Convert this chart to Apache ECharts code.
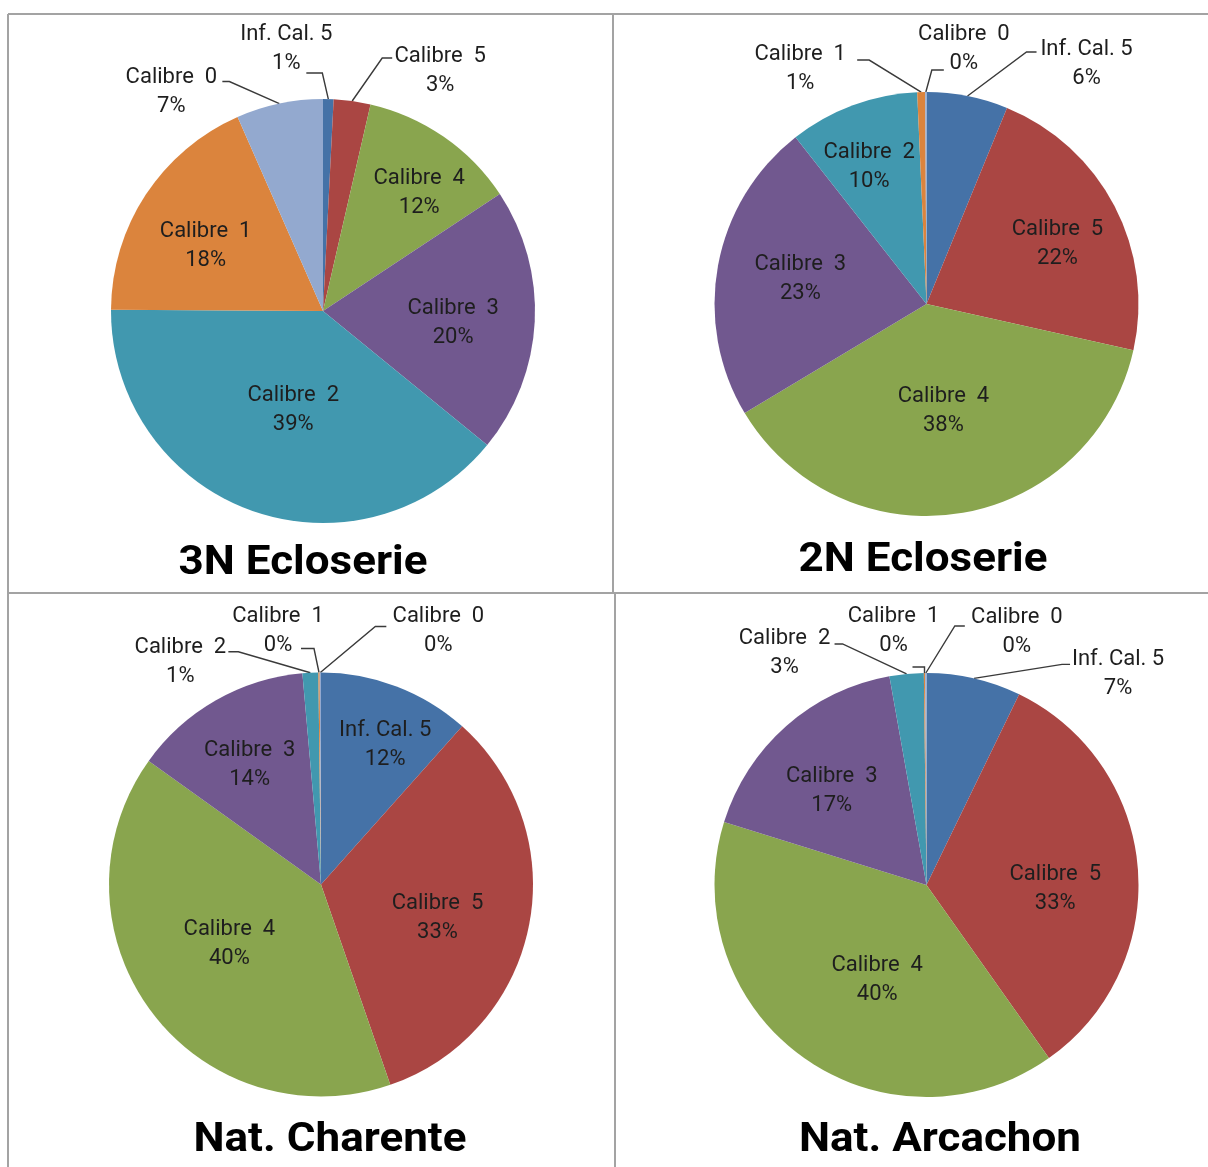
<!DOCTYPE html>
<html>
<head>
<meta charset="utf-8">
<script src="https://cdn.jsdelivr.net/npm/echarts@6/dist/echarts.min.js"></script>
<style>
  html, body { margin: 0; padding: 0; background: #fff; }
  #chart { width: 1208px; height: 1167px; }
</style>
</head>
<body>
<div id="chart"></div>
<script>
// categories, in the order they go round each pie (clockwise from 12 o'clock)
const categories = ['Inf. Cal. 5', 'Calibre 5', 'Calibre 4', 'Calibre 3', 'Calibre 2', 'Calibre 1', 'Calibre 0'];
const sliceColors = ['#4572A7', '#AA4643', '#89A54E', '#71588F', '#4198AF', '#DB843D', '#93A9CF'];

// share of each calibre, in %
const ecloserie3N = [0.8, 2.8, 12.1, 20.2, 39.2, 18.3, 6.6];
const ecloserie2N = [6.2, 22.3, 37.9, 23.0, 9.9, 0.6, 0.1];
const natCharente = [11.6, 33.1, 40.2, 13.7, 1.2, 0.1, 0.1];
const natArcachon = [7.2, 33.0, 39.6, 17.4, 2.6, 0.1, 0.1];

const titles = ['3N Ecloserie', '2N Ecloserie', 'Nat. Charente', 'Nat. Arcachon'];

const RADIUS = 212;

// label placement: k = radial position of an inside label (fraction of radius) + small nudge,
// b/e/l = leader bend, leader end and label centre, relative to the slice edge point
const inn = (k, dx, dy) => ({ k: k, d: [dx, dy] });
const out = (bx, by, ex, ey, lx, ly) => ({ b: [bx, by], e: [ex, ey], l: [lx, ly] });

const panels = [
    {
        values: ecloserie3N, center: [323, 311], titlePos: [303, 564],
        labels: [out(-6, -26, -22, -26, -42, -50), out(30, -43, 40, -43, 88, -30), inn(0.73, 8, 9), inn(0.61, 1, 6),
                 inn(0.47, 4, 5), inn(0.64, -4, 9), out(-50, -22, -57, -22, -108, -12)]
    },
    {
        values: ecloserie2N, center: [926.5, 304], titlePos: [923, 561],
        labels: [out(59, -44, 69, -44, 119, -32), inn(0.67, 5, 6), inn(0.5, 0, 2), inn(0.61, 1, -2),
                 inn(0.71, -5, 4), out(-52, -32, -64, -32, -121, -23), out(6, -22, 18, -22, 38, -43)]
    },
    {
        values: natCharente, center: [321, 884.5], titlePos: [330, 1141],
        labels: [inn(0.73, 9, 5), inn(0.57, -2, 10), inn(0.51, -5, -5), inn(0.66, -2, 2),
                 out(-72, -21, -82, -21, -130, -11), out(-5, -24, -18, -24, -41, -42), out(55, -46, 66, -46, 118, -42)]
    },
    {
        values: natArcachon, center: [926.5, 885], titlePos: [940, 1141],
        labels: [out(88, -14, 96, -14, 144, -4), inn(0.6, 2, 14), inn(0.5, 13, 9), inn(0.64, -5, 8),
                 out(-64, -30, -72, -30, -122, -21), out(0, -6, -12, -6, -31, -42), out(29, -47, 39, -47, 91, -41)]
    }
];

function placeLabel(params) {
    const panel = panels[params.seriesIndex];
    if (!panel) return {};
    const spec = panel.labels[params.dataIndex];
    const rect = params.labelRect;
    if (spec.k) {
        const cx = panel.center[0];
        const cy = panel.center[1];
        const dx = rect.x + rect.width / 2 - cx;
        const dy = rect.y + rect.height / 2 - cy;
        const len = Math.sqrt(dx * dx + dy * dy) || 1;
        return {
            x: cx + dx / len * spec.k * RADIUS + spec.d[0],
            y: cy + dy / len * spec.k * RADIUS + spec.d[1],
            align: 'center',
            verticalAlign: 'middle'
        };
    }
    const pts = params.labelLinePoints;
    if (!pts) return {};
    const p0 = pts[0];
    return {
        x: p0[0] + spec.l[0],
        y: p0[1] + spec.l[1],
        align: 'center',
        verticalAlign: 'middle',
        labelLinePoints: [
            [p0[0], p0[1]],
            [p0[0] + spec.b[0], p0[1] + spec.b[1]],
            [p0[0] + spec.e[0], p0[1] + spec.e[1]]
        ]
    };
}

const series = panels.map(function (panel) {
    return {
        type: 'pie',
        center: panel.center,
        radius: RADIUS,
        startAngle: 90,
        clockwise: true,
        avoidLabelOverlap: false,
        percentPrecision: 0,
        silent: true,
        itemStyle: { borderWidth: 0 },
        label: {
            // the source labels show a wide gap before the calibre number
            formatter: function (p) {
                return p.name.replace(/^Calibre /, 'Calibre  ') + '\n' + p.percent + '%';
            },
            fontFamily: 'Roboto',
            fontSize: 22,
            lineHeight: 29,
            color: '#1e1e1e'
        },
        labelLine: {
            show: false,
            lineStyle: { color: '#3a3a3a', width: 1.4 }
        },
        labelLayout: placeLabel,
        data: categories.map(function (name, i) {
            const isOut = !panel.labels[i].k;
            return {
                name: name,
                value: panel.values[i],
                itemStyle: { color: sliceColors[i] },
                label: { position: isOut ? 'outside' : 'inside' },
                labelLine: { show: isOut, length: 15, length2: 10 }
            };
        })
    };
});

// panel frame
const frameColor = '#a3a3a3';
const frameLines = [
    [8, 14, 1208, 14],
    [8, 14, 8, 1167],
    [8, 593, 1208, 593],
    [613, 14, 613, 593],
    [615, 593, 615, 1167]
];

const graphic = frameLines.map(function (l) {
    return {
        type: 'line',
        silent: true,
        shape: { x1: l[0], y1: l[1], x2: l[2], y2: l[3] },
        style: { stroke: frameColor, lineWidth: 2 }
    };
}).concat(panels.map(function (panel, i) {
    return {
        type: 'text',
        silent: true,
        x: panel.titlePos[0],
        y: panel.titlePos[1],
        scaleX: 1.1,
        style: {
            text: titles[i],
            font: 'bold 40px Roboto, "Liberation Sans", sans-serif',
            fill: '#000',
            textAlign: 'center',
            textVerticalAlign: 'middle'
        }
    };
}));

const chart = echarts.init(document.getElementById('chart'));
chart.setOption({
    animation: false,
    backgroundColor: '#fff',
    series: series,
    graphic: graphic
});
</script>
</body>
</html>
